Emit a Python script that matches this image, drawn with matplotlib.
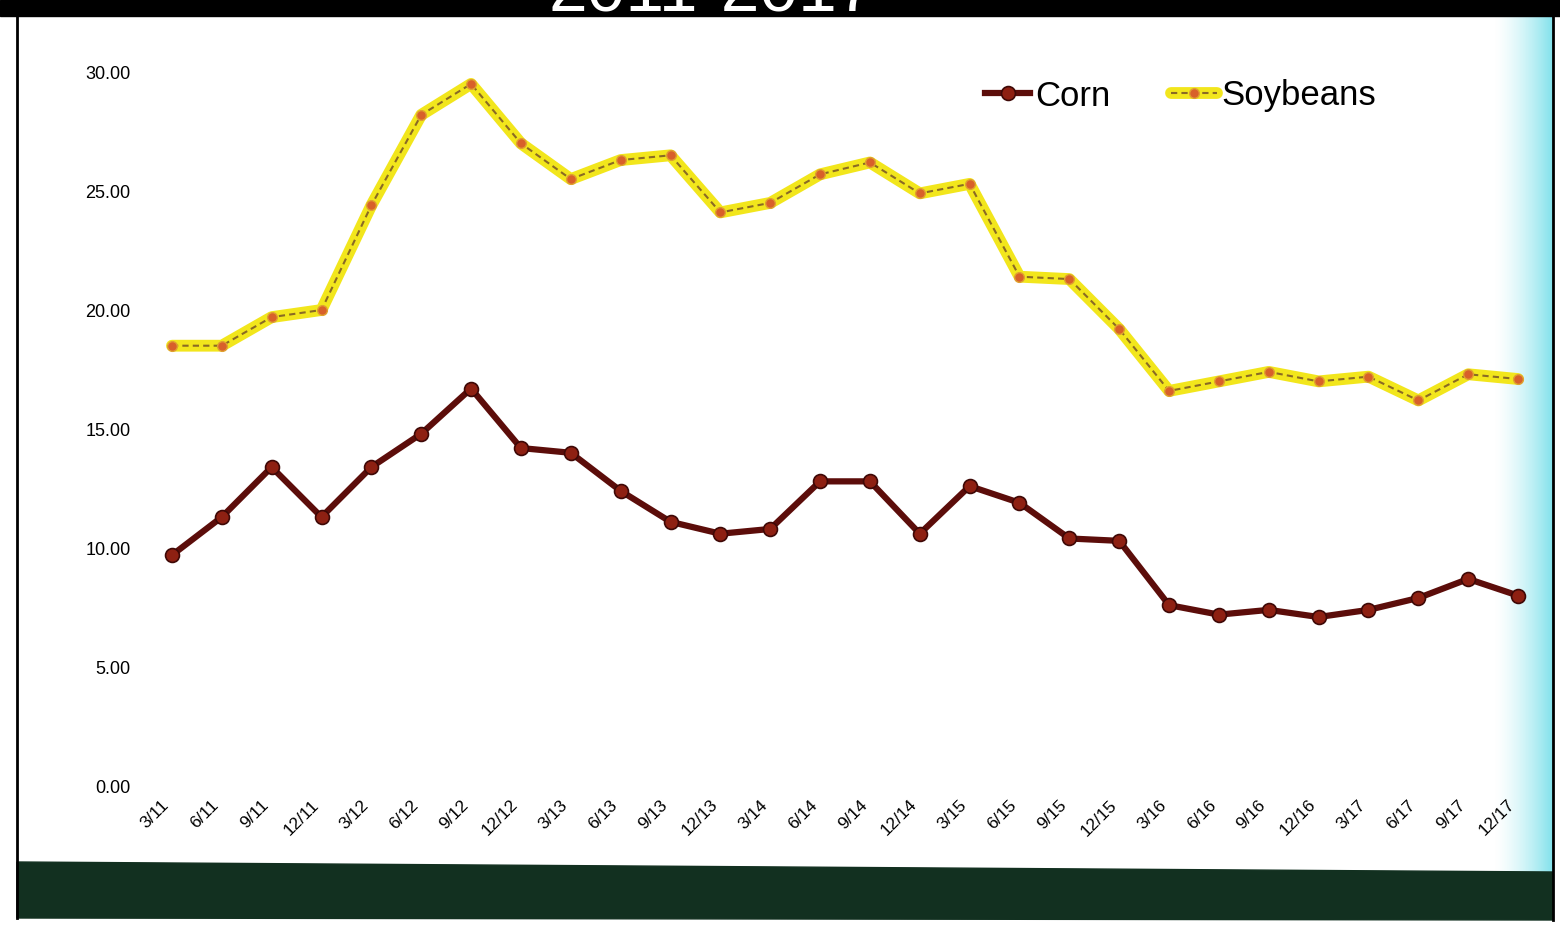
import numpy as np
import matplotlib
matplotlib.use("Agg")
import matplotlib.pyplot as plt
from matplotlib.patches import Rectangle, Polygon

plt.rcParams['font.family'] = ['Liberation Sans', 'DejaVu Sans']

# Quarterly values, 2011-2017
quarters = ['3/11', '6/11', '9/11', '12/11', '3/12', '6/12', '9/12', '12/12',
            '3/13', '6/13', '9/13', '12/13', '3/14', '6/14', '9/14', '12/14',
            '3/15', '6/15', '9/15', '12/15', '3/16', '6/16', '9/16', '12/16',
            '3/17', '6/17', '9/17', '12/17']
corn = [9.7, 11.3, 13.4, 11.3, 13.4, 14.8, 16.7, 14.2,
        14.0, 12.4, 11.1, 10.6, 10.8, 12.8, 12.8, 10.6,
        12.6, 11.9, 10.4, 10.3, 7.6, 7.2, 7.4, 7.1,
        7.4, 7.9, 8.7, 8.0]
soybeans = [18.5, 18.5, 19.7, 20.0, 24.4, 28.2, 29.5, 27.0,
            25.5, 26.3, 26.5, 24.1, 24.5, 25.7, 26.2, 24.9,
            25.3, 21.4, 21.3, 19.2, 16.6, 17.0, 17.4, 17.0,
            17.2, 16.2, 17.3, 17.1]
yticks = [0, 5, 10, 15, 20, 25, 30]

W, H = 1560, 930
fig = plt.figure(figsize=(W / 100, H / 100), dpi=100)
fig.patch.set_facecolor('white')

# page decorations drawn in pixel coordinates
bg = fig.add_axes([0, 0, 1, 1], zorder=-1)
bg.set_xlim(0, W)
bg.set_ylim(H, 0)
bg.axis('off')
bg.add_patch(Rectangle((0, 0), W, 16, color='black'))
bg.add_patch(Polygon([(17, 862), (1553, 872), (1553, 920), (17, 918)],
                     closed=True, color='#123020'))
haze = np.linspace(0, 1, 60)[None, :] ** 1.5
cyan = np.zeros((1, 60, 4))
cyan[..., :3] = [0.35, 0.85, 0.9]
cyan[..., 3] = haze * 0.75
bg.imshow(cyan, extent=(1493, 1553, 872, 16), aspect='auto')
bg.plot([17, 17], [10, 918], color='black', lw=2)
bg.plot([1553, 1553], [10, 920], color='black', lw=2)

# title sits mostly above the top edge of the page
fig.text(712 / W, 1 - 11 / H, '2011-2017', color='white', fontsize=50,
         ha='center', va='baseline')

ax = fig.add_axes([150 / W, 1 - 786 / H, 1390 / W, 714 / H])
ax.patch.set_alpha(0)
x = np.arange(len(quarters))

corn_line, = ax.plot(x, corn, color='#5c0d0a', lw=4.5, marker='o', ms=10,
                     mfc='#8e2012', mec='#3e0806', mew=1.2, zorder=3)
soy_glow, = ax.plot(x, soybeans, color='#f2e61c', lw=8.5, solid_capstyle='round',
                    zorder=2)
soy_core, = ax.plot(x, soybeans, color='#8a6a24', lw=1.5, ls=(0, (3, 2)),
                    marker='o', ms=7, mfc='#d8602a', mec='#e0a030', mew=1,
                    zorder=3)

ax.set_xlim(-0.44, len(quarters) - 1 + 0.44)
ax.set_ylim(0, 30)
ax.set_yticks(yticks)
ax.set_yticklabels([f'{v:.2f}' for v in yticks], fontsize=13)
ax.set_xticks(x)
ax.set_xticklabels(quarters, rotation=45, ha='right', va='top', fontsize=12.5)
ax.tick_params(axis='y', length=0, pad=14)
ax.tick_params(axis='x', length=0, pad=8)
for s in ax.spines.values():
    s.set_visible(False)

fig.legend([corn_line, (soy_glow, soy_core)], ['Corn', 'Soybeans'],
           loc='center left', bbox_to_anchor=(985 / W, 1 - 96 / H),
           ncol=2, frameon=False, fontsize=25, handlelength=1.3,
           handletextpad=0.15, columnspacing=1.75, borderpad=0,
           borderaxespad=0)

fig.savefig('out.png', dpi=100, facecolor='white')
